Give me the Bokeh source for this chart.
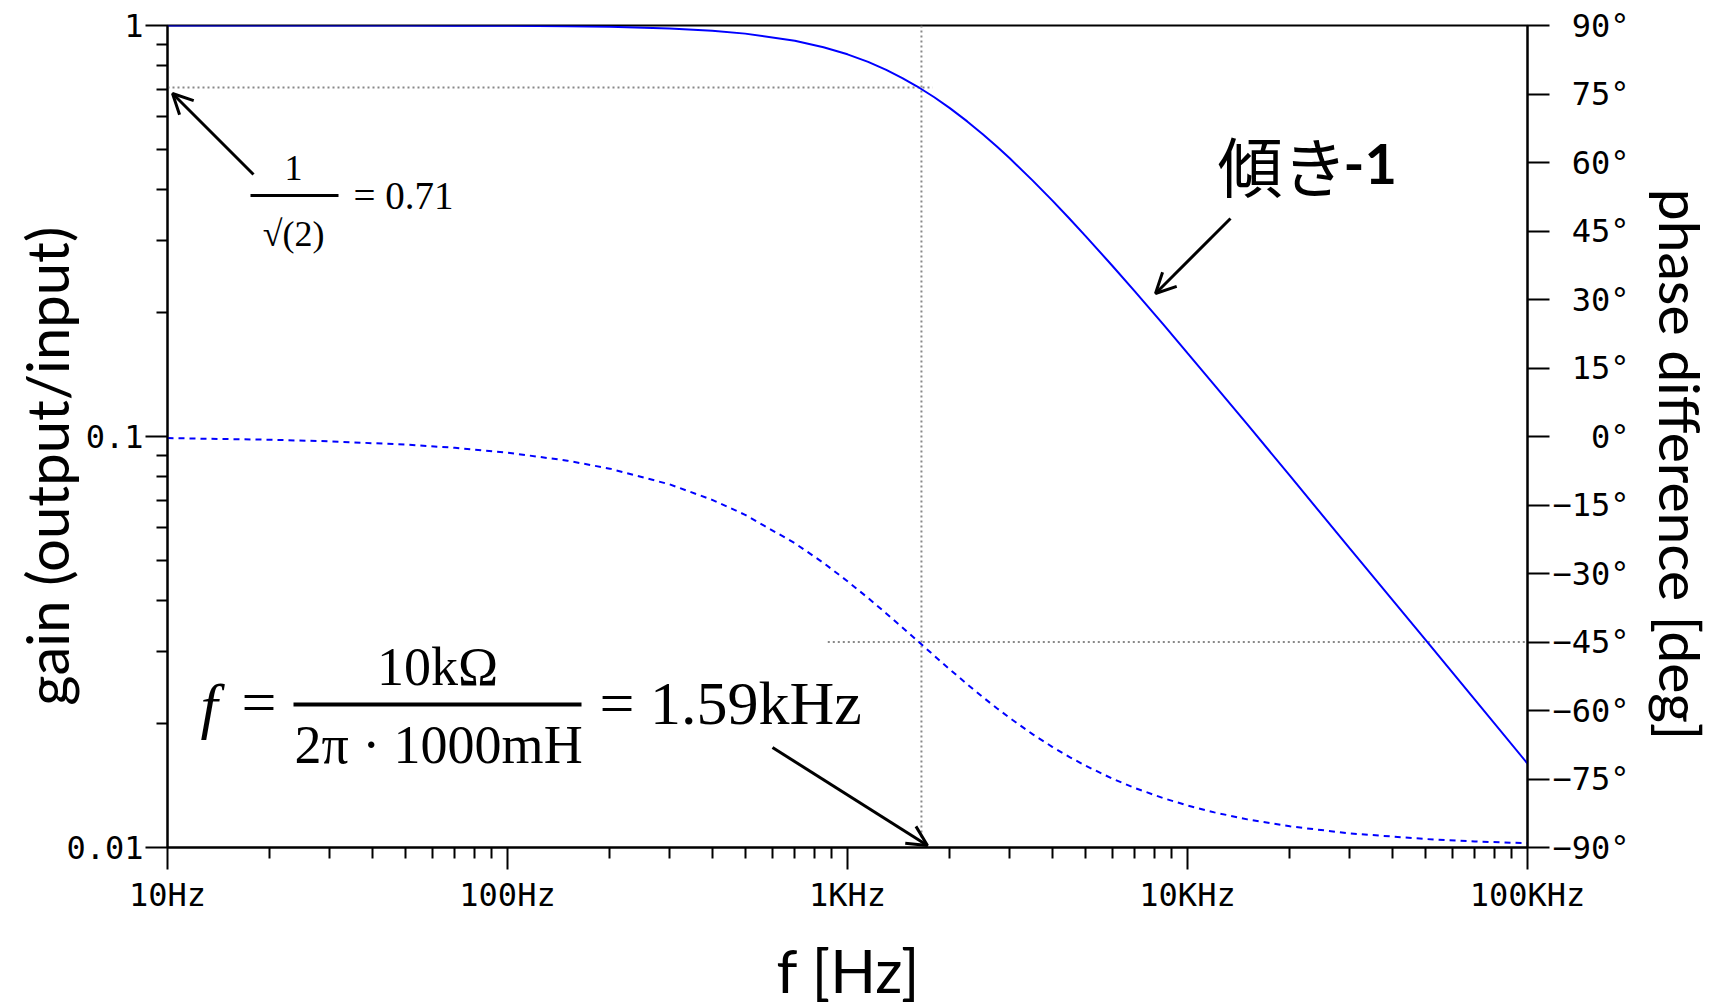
import math
from bokeh.plotting import figure
from bokeh.layouts import row, column
from bokeh.models import (Range1d, LinearAxis, LinearScale, FixedTicker, Label, Arrow, OpenHead,
                          ColumnDataSource)
from bokeh.embed import file_html
from bokeh.resources import INLINE

# ---- data ----
freq_hz = [10, 20, 30, 50, 70, 100, 150, 200, 300, 400, 500, 700, 850, 1000, 1150, 1300,
           1450, 1600, 1800, 2000, 2250, 2500, 2750, 3000, 3500, 4000, 4500, 5000, 6000,
           7000, 8500, 10000, 12000, 15000, 20000, 30000, 50000, 70000, 100000]
gain = [1.0000, 0.9999, 0.9998, 0.9995, 0.9991, 0.9981, 0.9957, 0.9925, 0.9833, 0.9709,
        0.9555, 0.9180, 0.8855, 0.8509, 0.8154, 0.7799, 0.7451, 0.7115, 0.6690, 0.6294,
        0.5843, 0.5438, 0.5076, 0.4751, 0.4200, 0.3754, 0.3387, 0.3082, 0.2607, 0.2255,
        0.1872, 0.1595, 0.1334, 0.1070, 0.0803, 0.0534, 0.0321, 0.0229, 0.0160]
phase_deg = [-0.35, -0.71, -1.06, -1.77, -2.47, -3.53, -5.29, -7.04, -10.49, -13.87,
             -17.15, -23.37, -27.68, -31.69, -35.37, -38.75, -41.83, -44.64, -48.01, -51.00,
             -54.25, -57.06, -59.50, -61.63, -65.17, -67.95, -70.20, -72.05, -74.89, -76.97,
             -79.21, -80.80, -82.31, -83.84, -85.37, -86.91, -88.14, -88.67, -89.07]

# reference (dotted) lines
ref_gain_x = [10, 1780]
ref_gain_y = [0.707, 0.707]
ref_cut_x = [1650, 1650]
ref_cut_y = [0.01, 1.0]
ref_phase_x = [875, 100000]
ref_phase_y = [-45, -45]

# ticks
x_ticks = [10, 100, 1000, 10000, 100000]
x_tick_labels = ["10Hz", "100Hz", "1KHz", "10KHz", "100KHz"]
y_ticks = [0.01, 0.1, 1]
y_tick_labels = ["0.01", "0.1", "1"]
phase_ticks = [-90, -75, -60, -45, -30, -15, 0, 15, 30, 45, 60, 75, 90]
phase_tick_labels = ["−90°", "−75°", "−60°", "−45°", "−30°", "−15°", "0°", "15°", "30°",
                     "45°", "60°", "75°", "90°"]

x_minor = [m * 10 ** k for k in range(1, 5) for m in range(2, 10)]
y_minor = [m * 10.0 ** k for k in (-2, -1) for m in range(2, 10)]

NB = "\u00a0"
MONO = "DejaVu Sans Mono"
TITLE_FONT = "Lato"
SERIF = "Liberation Serif"

PAGE_W, PAGE_H = 1715, 1006
MAIN_W, MAIN_H = 1632, 916

p = figure(width=MAIN_W, height=MAIN_H, x_axis_type="log", y_axis_type="log",
           x_range=Range1d(10, 100000), y_range=Range1d(0.01, 1),
           output_backend="svg", toolbar_location=None,
           min_border_left=167, min_border_right=MAIN_W - 1528, min_border_top=25,
           min_border_bottom=MAIN_H - 847)
p.extra_y_ranges = {"phase": Range1d(-90, 90)}
p.extra_y_scales = {"phase": LinearScale()}
p.xgrid.visible = False
p.ygrid.visible = False
p.outline_line_color = "black"
p.outline_line_width = 2
p.outline_line_alpha = 1.0
p.background_fill_color = "white"
p.border_fill_color = "white"

right = LinearAxis(y_range_name="phase")
p.add_layout(right, "right")

xa = p.xaxis[0]
ya = p.yaxis[0]

xa.ticker = FixedTicker(ticks=x_ticks, minor_ticks=x_minor)
xa.major_label_overrides = {t: l for t, l in zip(x_ticks, x_tick_labels)}
ya.ticker = FixedTicker(ticks=y_ticks, minor_ticks=y_minor)
ya.major_label_overrides = {t: l for t, l in zip(y_ticks, y_tick_labels)}
right.ticker = FixedTicker(ticks=phase_ticks, minor_ticks=[])
w = max(len(s) for s in phase_tick_labels)
right.major_label_overrides = {t: NB * (w - len(l)) + l for t, l in zip(phase_ticks, phase_tick_labels)}

for ax in (xa, ya, right):
    ax.axis_line_color = "black"
    ax.axis_line_width = 2
    ax.major_tick_in = 0
    ax.major_tick_out = 22
    ax.minor_tick_in = 0
    ax.minor_tick_out = 11
    ax.major_tick_line_width = 2
    ax.minor_tick_line_width = 2
    ax.major_tick_line_color = "black"
    ax.minor_tick_line_color = "black"
    ax.major_label_text_font = MONO
    ax.major_label_text_font_size = "32px"
    ax.major_label_text_color = "black"
    ax.axis_label_text_font = TITLE_FONT
    ax.axis_label_text_font_style = "normal"
    ax.axis_label_text_font_size = "58px"
    ax.axis_label_text_color = "black"

xa.major_label_standoff = 6
ya.major_label_standoff = 2
right.major_label_standoff = 3

ya.axis_label = "gain (output/input)" + NB * 4
ya.axis_label_standoff = -18

# dotted reference lines
dot = dict(line_color="#888888", line_width=2, line_dash="2 3")
p.line(ref_gain_x, ref_gain_y, **dot)
p.line(ref_cut_x, ref_cut_y, **dot)
p.line(ref_phase_x, ref_phase_y, y_range_name="phase", **dot)

src = ColumnDataSource(dict(f=freq_hz, g=gain, ph=phase_deg))
p.line("f", "ph", source=src, y_range_name="phase", line_color="#0000ff", line_width=2,
       line_dash="6 5")
p.line("f", "g", source=src, line_color="#0000ff", line_width=2)


# ---- annotations (screen units, relative to the frame) ----
def lab(fig, x, y, text, font=SERIF, size="36px", align="left", baseline="middle",
        style="normal", angle=0.0):
    fig.add_layout(Label(x=x, y=y, x_units="screen", y_units="screen", text=text,
                         text_font=font, text_font_size=size, text_align=align,
                         text_baseline=baseline, text_font_style=style, text_color="black",
                         angle=angle))


def bar(x0, x1, y, width=3):
    p.add_layout(Arrow(start=None, end=None, x_start=x0, y_start=y, x_end=x1, y_end=y,
                       start_units="screen", end_units="screen",
                       line_width=width, line_color="black"))


def arrow(x0, y0, x1, y1):
    p.add_layout(Arrow(end=OpenHead(size=20, line_width=3, line_color="black"),
                       x_start=x0, y_start=y0, x_end=x1, y_end=y1,
                       start_units="screen", end_units="screen",
                       line_width=3, line_color="black"))


# 1/sqrt(2) = 0.71
lab(p, 126, 680, "1", align="center")
bar(83, 171, 652)
lab(p, 126, 614, "√(2)", align="center")
lab(p, 186, 652, "= 0.71", size="39px")
arrow(86, 673, 5, 754)

# f = 10kOhm / (2 pi 1000mH) = 1.59kHz
lab(p, 33, 142, "f", size="62px", style="italic")
lab(p, 74, 146, "=", size="62px")
lab(p, 270, 181, "10kΩ", size="54px", align="center")
bar(126, 414, 143, width=4)
lab(p, 271, 103, "2π · 1000mH", size="54px", align="center")
lab(p, 432, 145, "= 1.59kHz", size="62px")
arrow(605, 100, 760, 2)

# slope -1
lab(p, 1050, 684, "傾き", font="Noto Sans CJK JP", size="65px")
lab(p, 1176, 684, "-1", font="Lato", size="56px", style="bold")
arrow(1063, 629, 988, 554)


# ---- title strips (right: phase axis title, bottom: frequency axis title) ----
def strip(wd, ht):
    f = figure(width=wd, height=ht, output_backend="svg", toolbar_location=None,
               x_axis_location=None, y_axis_location=None,
               min_border_left=0, min_border_right=0, min_border_top=0, min_border_bottom=0)
    f.xgrid.visible = False
    f.ygrid.visible = False
    f.outline_line_color = None
    f.background_fill_color = "white"
    f.border_fill_color = "white"
    return f


pr = strip(PAGE_W - MAIN_W, MAIN_H)
lab(pr, 48, 383, "phase difference [deg]", font=TITLE_FONT, size="57px",
    align="center", angle=-math.pi / 2)

pb = strip(PAGE_W, PAGE_H - MAIN_H)
lab(pb, 848, 37, "f [Hz]", font=TITLE_FONT, size="60px", align="center")

layout = column(row(p, pr), pb)
open("out.html", "w").write(file_html(layout, INLINE))
